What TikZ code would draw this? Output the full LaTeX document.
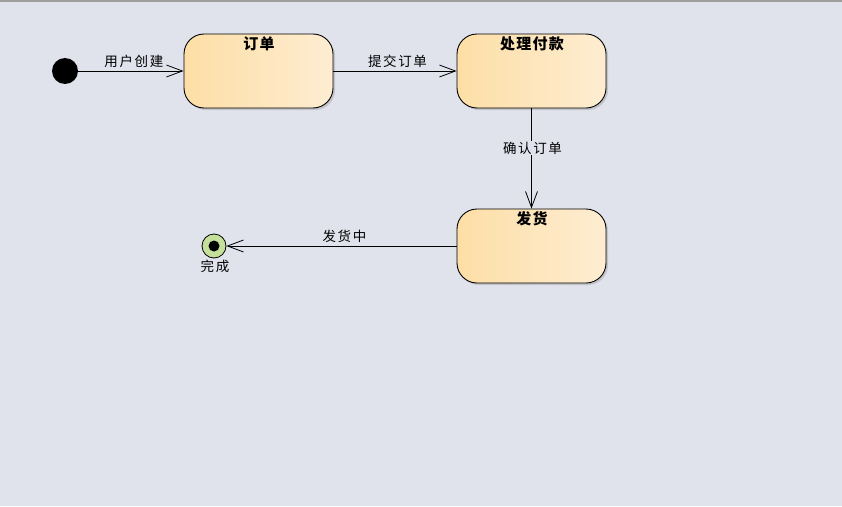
\documentclass[tikz,border=0pt]{standalone}
\usepackage{fontspec}
\newfontfamily\cjk{Noto Sans CJK SC}[LetterSpace=12]
\newfontfamily\cjkt{Noto Sans CJK SC}[LetterSpace=8]
\usetikzlibrary{arrows.meta,shadows}
\definecolor{bgc}{HTML}{E0E3EC}
\definecolor{stl}{HTML}{FDDEA6}
\definecolor{str}{HTML}{FEEDD2}
\definecolor{fing}{HTML}{C5E09A}
\tikzset{
  every node/.style={font=\cjk\fontsize{13.5pt}{15pt}\selectfont},
  statebox/.style={draw=black, line width=0.9pt, rounded corners=20pt, minimum width=149pt, minimum height=74pt,
    left color=stl, right color=str, inner sep=0pt,
    drop shadow={shadow xshift=2pt, shadow yshift=-2pt, fill=black!35, opacity=0.5}},
  ttl/.style={font=\cjkt\bfseries\fontsize{15pt}{16pt}\selectfont},
  trans/.style={draw=black, line width=0.8pt, -{Straight Barb[length=16pt,width=12pt,line width=0.8pt]}},
  lbl/.style={inner sep=1pt}
}
\begin{document}
\begin{tikzpicture}[x=1pt,y=-1pt]
\useasboundingbox (0,0) rectangle (842,506);
\fill[bgc] (0,0) rectangle (842,506);
\fill[black!38] (0,0) rectangle (842,2);
% initial
\node[circle, fill=black, minimum size=26pt, inner sep=0pt] (init) at (65,71) {};
% states
\node[statebox] (s1) at (258.5,71) {};
\node[ttl] at (259,44) {订单};
\node[statebox] (s2) at (531.5,71) {};
\node[ttl] at (532,44) {处理付款};
\node[statebox] (s3) at (531.5,246) {};
\node[ttl] at (532,219) {发货};
% final
\node[circle, draw=black, line width=0.8pt, fill=fing, minimum size=24pt, inner sep=0pt] (fin) at (214,246) {};
\fill[black] (fin.center) circle (5.5pt);
\node at (215,266.5) {完成};
% transitions
\draw[trans] (init) -- (s1) node[midway, lbl, yshift=10pt, xshift=3pt] {用户创建};
\draw[trans] (s1) -- (s2) node[midway, lbl, yshift=10pt, xshift=2.5pt] {提交订单};
\draw[trans] (s2) -- (s3) node[pos=0.396, fill=bgc, lbl, xshift=1pt] {确认订单};
\draw[trans] (s3) -- (fin) node[midway, lbl, yshift=10pt, xshift=3pt] {发货中};
\end{tikzpicture}
\end{document}
